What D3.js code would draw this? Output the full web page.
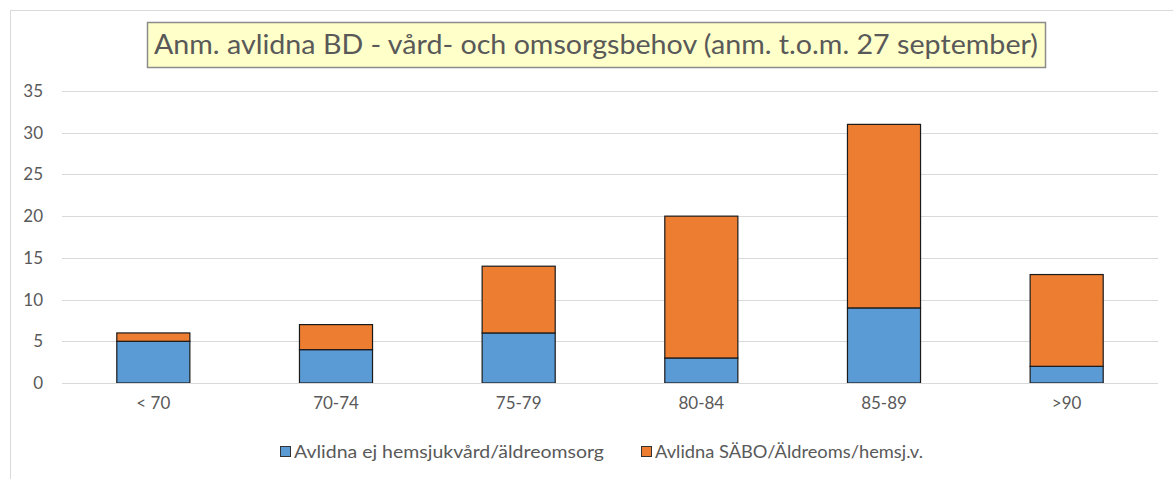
<!DOCTYPE html>
<html>
<head>
<meta charset="utf-8">
<script src="https://cdn.jsdelivr.net/npm/d3@7"></script>
<style>
  body { margin: 0; background: #fff; }
  text { font-family: Lato, "Liberation Sans", Arial, sans-serif; fill: #595959; }
</style>
</head>
<body>
<div id="chart"></div>
<script>
const categories = ["< 70", "70-74", "75-79", "80-84", "85-89", ">90"];
const ejHemsjukvard = [5, 4, 6, 3, 9, 2];
const saboAldreoms = [1, 3, 8, 17, 22, 11];
const seriesNames = ["Avlidna ej hemsjukvård/äldreomsorg", "Avlidna SÄBO/Äldreoms/hemsj.v."];
const seriesColors = ["#5b9bd5", "#ed7d31"];
const yTicks = [0, 5, 10, 15, 20, 25, 30, 35];
const title = "Anm. avlidna BD - vård- och omsorgsbehov (anm. t.o.m. 27 september)";

const W = 1173, H = 479;
const font = "Lato, Liberation Sans, Arial, sans-serif";
const svg = d3.select("#chart").append("svg")
  .attr("width", W).attr("height", H);

// chart frame
svg.append("rect")
  .attr("x", 10.5).attr("y", 10.5)
  .attr("width", W + 20).attr("height", H + 20)
  .attr("fill", "#fff").attr("stroke", "#d9d9d9");

// scales
const x = d3.scaleBand().domain(categories).range([62, 1158]).paddingInner(0.6).paddingOuter(0.3);
const y = d3.scaleLinear().domain([0, 35]).range([383, 91]);

// gridlines
svg.append("g").selectAll("line")
  .data(yTicks).enter().append("line")
  .attr("x1", 62).attr("x2", 1158)
  .attr("y1", d => Math.round(y(d)) + 0.5).attr("y2", d => Math.round(y(d)) + 0.5)
  .attr("stroke", "#d9d9d9").attr("stroke-width", 1);

// y axis labels
const yAxis = svg.append("g")
  .attr("transform", "translate(46,0)")
  .call(d3.axisLeft(y).tickValues(yTicks).tickSize(0).tickPadding(3));
yAxis.select(".domain").remove();
yAxis.selectAll("text")
  .style("font-family", font)
  .style("font-size", "17px").attr("fill", "#595959");

// stacked data
const rows = categories.map((c, i) => ({ cat: c, a: ejHemsjukvard[i], b: saboAldreoms[i] }));
const stack = d3.stack().keys(["a", "b"])(rows);

svg.append("g").selectAll("g")
  .data(stack).enter().append("g")
  .attr("fill", (d, i) => seriesColors[i])
  .selectAll("rect")
  .data(d => d).enter().append("rect")
  .attr("x", d => x(d.data.cat))
  .attr("y", d => y(d[1]))
  .attr("width", x.bandwidth())
  .attr("height", d => y(d[0]) - y(d[1]))
  .attr("stroke", "#1a1a1a").attr("stroke-width", 1.2);

// baseline
svg.append("line")
  .attr("x1", 62).attr("x2", 1158)
  .attr("y1", Math.round(y(0)) + 0.5).attr("y2", Math.round(y(0)) + 0.5)
  .attr("stroke", "#d9d9d9");

// x labels
const xAxis = svg.append("g")
  .attr("transform", `translate(0, ${y(0)})`)
  .call(d3.axisBottom(x).tickSize(0).tickPadding(14));
xAxis.select(".domain").remove();
xAxis.selectAll("text")
  .style("font-family", font)
  .style("font-size", "17px").attr("fill", "#595959");

// title box
svg.append("rect")
  .attr("x", 147.5).attr("y", 22.5).attr("width", 898).attr("height", 45)
  .attr("fill", "#ffffc9").attr("stroke", "#8c8c8c").attr("stroke-width", 1.5);
svg.append("text")
  .attr("x", 596).attr("y", 54)
  .attr("text-anchor", "middle")
  .attr("textLength", 884).attr("lengthAdjust", "spacingAndGlyphs")
  .style("font-size", "27px")
  .text(title);

// legend
const legendX = [280, 641];
const legendW = [310, 268];
const legend = svg.append("g").selectAll("g")
  .data(seriesNames).enter().append("g")
  .attr("transform", (d, i) => `translate(${legendX[i]}, 446)`);
legend.append("rect")
  .attr("x", 0.5).attr("y", 0.5).attr("width", 10).attr("height", 10)
  .attr("fill", (d, i) => seriesColors[i]).attr("stroke", "#333");
legend.append("text")
  .attr("x", 14).attr("y", 11.5)
  .attr("textLength", (d, i) => legendW[i]).attr("lengthAdjust", "spacingAndGlyphs")
  .style("font-size", "17px")
  .text(d => d);
</script>
</body>
</html>
